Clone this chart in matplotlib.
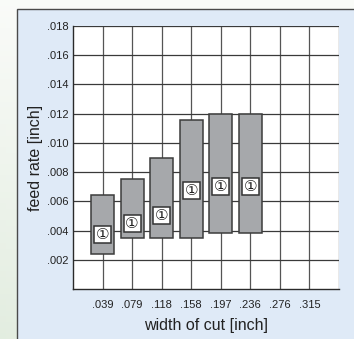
import numpy as np
import matplotlib
matplotlib.use("Agg")
import matplotlib.pyplot as plt
from matplotlib.patches import Rectangle
from matplotlib import font_manager

# ---- data ----
cut_widths = ['.039', '.079', '.118', '.158', '.197', '.236', '.276', '.315']
feed_min = [0.0024, 0.0035, 0.0035, 0.0035, 0.0038, 0.0038]
feed_max = [0.0064, 0.0075, 0.0090, 0.0116, 0.0120, 0.0120]
marker_y = [0.0037, 0.0045, 0.0050, 0.00675, 0.0070, 0.0070]
marker_text = ['①'] * 6
y_ticks = [0.002, 0.004, 0.006, 0.008, 0.010, 0.012, 0.014, 0.016, 0.018]
y_labels = ['.002', '.004', '.006', '.008', '.010', '.012', '.014', '.016', '.018']

names = {f.name for f in font_manager.fontManager.ttflist}
base = 'Liberation Sans Narrow' if 'Liberation Sans Narrow' in names else 'Liberation Sans'
plt.rcParams['font.family'] = [base, 'DejaVu Sans', 'Noto Sans CJK JP']

W, H = 354, 339
fig = plt.figure(figsize=(W / 100, H / 100), dpi=100)

# background: soft green-white wash and a light blue panel
bg = fig.add_axes([0, 0, 1, 1])
bg.set_xlim(0, W)
bg.set_ylim(H, 0)
bg.axis('off')
yy, xx = np.mgrid[0:1:60j, 0:1:60j]
t = np.clip(0.35 * yy + 0.65 * (1 - xx) * yy, 0, 1)[..., None]
c0 = np.array([0.98, 0.985, 0.975])
c1 = np.array([0.89, 0.93, 0.88])
bg.imshow(c0 * (1 - t) + c1 * t, extent=[0, W, H, 0], aspect='auto', zorder=0)
bg.add_patch(Rectangle((17, 9), W, H, facecolor='#dfeaf7', edgecolor='#4a4a4a',
                       lw=1.0, zorder=1))

ax = fig.add_axes([73 / W, (H - 289) / H, 266 / W, 263 / H])
ax.set_facecolor('white')
ax.set_xlim(0, 9)
ax.set_ylim(0, 0.018)

grid_c = '#3a3a3a'
for gx in range(1, 10):
    ax.axvline(gx, color='#555555', lw=0.9, zorder=1)
for gy in y_ticks:
    ax.axhline(gy, color=grid_c, lw=0.9, zorder=1)
for side in ['top', 'right']:
    ax.spines[side].set_visible(False)
for side in ['left', 'bottom']:
    ax.spines[side].set_color('#2a2a2a')
    ax.spines[side].set_linewidth(1.0)

xpos = np.arange(1, len(feed_min) + 1)
heights = np.array(feed_max) - np.array(feed_min)
ax.bar(xpos, heights, bottom=feed_min, width=0.78, color='#a6a8ab',
       edgecolor='#3c3c3c', linewidth=1.1, zorder=3)

bw, bh = 0.58, 0.00116
for x, y, s in zip(xpos, marker_y, marker_text):
    ax.add_patch(Rectangle((x - bw / 2, y - bh / 2), bw, bh, facecolor='white',
                           edgecolor='#333333', lw=1.1, zorder=4))
    ax.text(x, y, s, ha='center', va='center', fontsize=11, color='#222222',
            family=['DejaVu Sans', 'Noto Sans CJK JP'], zorder=5)

ax.set_xticks(np.arange(1, len(cut_widths) + 1))
ax.set_xticklabels(cut_widths)
ax.set_yticks(y_ticks)
ax.set_yticklabels(y_labels)
ax.tick_params(axis='both', length=0, labelsize=8, labelcolor='#222222')
ax.tick_params(axis='x', pad=8)
ax.tick_params(axis='y', pad=3)

ax.set_xlabel('width of cut [inch]', fontsize=11.5, color='#222222', labelpad=6)
ax.set_ylabel('feed rate [inch]', fontsize=11.5, color='#222222')
ax.yaxis.set_label_coords(-0.113, 0.5)

fig.savefig('out.png', dpi=100)
